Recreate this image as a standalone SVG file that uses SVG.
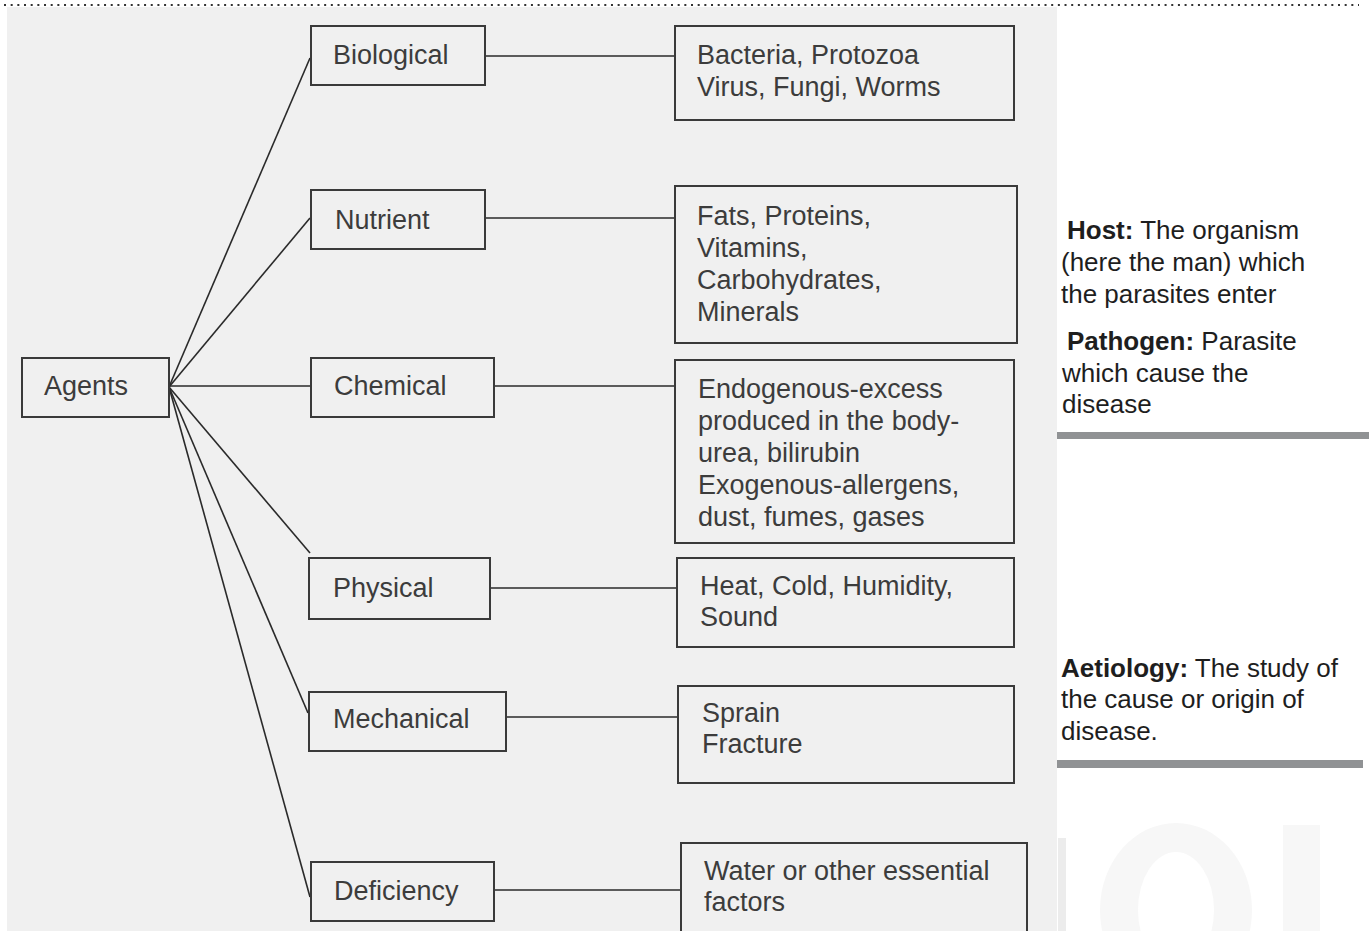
<svg xmlns="http://www.w3.org/2000/svg" width="1369" height="931" viewBox="0 0 1369 931">
<style>
.box{fill:none;stroke:#3a3a3a;stroke-width:2}
.t{font-family:"Liberation Sans",Arial,sans-serif;font-size:27px;fill:#3c3c3c}
.side{font-family:"Liberation Sans",Arial,sans-serif;font-size:26px;fill:#1e1e1e}
.b{font-weight:bold}
.conn line{stroke:#2a2a2a;stroke-width:1.6}
.wm{fill:#f7f7f7}
</style>
<rect width="1369" height="931" fill="#ffffff"/>
<rect x="7" y="7" width="1050" height="924" fill="#f0f0f0"/>
<line x1="4" y1="5" x2="1359" y2="5" stroke="#333" stroke-width="2" stroke-dasharray="2 4.67"/>
<g id="watermark">
<rect x="1058" y="838" width="8" height="93" fill="#ececec"/>
<path class="wm" fill-rule="evenodd" d="M1100,910 a76,87 0 1,0 152,0 a76,87 0 1,0 -152,0 Z M1138,910 a38,58 0 1,0 76,0 a38,58 0 1,0 -76,0 Z"/>
<rect class="wm" x="1283" y="825" width="37" height="106"/>
</g>
<g id="connectors" class="conn">
<line x1="169" y1="387" x2="310" y2="58"/>
<line x1="169" y1="387" x2="310" y2="218"/>
<line x1="169" y1="386" x2="311" y2="386"/>
<line x1="169" y1="387" x2="310" y2="553"/>
<line x1="169" y1="387" x2="308" y2="713"/>
<line x1="169" y1="387" x2="310" y2="897"/>
<line x1="485" y1="56" x2="675" y2="56"/>
<line x1="485" y1="218" x2="675" y2="218"/>
<line x1="494" y1="386" x2="675" y2="386"/>
<line x1="489" y1="588" x2="677" y2="588"/>
<line x1="506" y1="717" x2="678" y2="717"/>
<line x1="494" y1="890" x2="681" y2="890"/>
</g>
<g id="agents"><rect class="box" x="22" y="358" width="147" height="59"/><text class="t" x="44" y="395">Agents</text></g>
<g id="biological"><rect class="box" x="311" y="26" width="174" height="59"/><text class="t" x="333" y="64">Biological</text></g>
<g id="nutrient"><rect class="box" x="311" y="190" width="174" height="59"/><text class="t" x="335" y="229">Nutrient</text></g>
<g id="chemical"><rect class="box" x="311" y="358" width="183" height="59"/><text class="t" x="334" y="395">Chemical</text></g>
<g id="physical"><rect class="box" x="309" y="558" width="181" height="61"/><text class="t" x="333" y="597">Physical</text></g>
<g id="mechanical"><rect class="box" x="309" y="692" width="197" height="59"/><text class="t" x="333" y="728">Mechanical</text></g>
<g id="deficiency"><rect class="box" x="311" y="862" width="183" height="59"/><text class="t" x="334" y="900">Deficiency</text></g>
<g id="bio-items"><rect class="box" x="675" y="26" width="339" height="94"/><text class="t" x="697" y="64">Bacteria, Protozoa</text><text class="t" x="697" y="96">Virus, Fungi, Worms</text></g>
<g id="nut-items"><rect class="box" x="675" y="186" width="342" height="157"/>
<text class="t" x="697" y="225">Fats, Proteins,</text><text class="t" x="697" y="257">Vitamins,</text><text class="t" x="697" y="289">Carbohydrates,</text><text class="t" x="697" y="321">Minerals</text></g>
<g id="chem-items"><rect class="box" x="675" y="360" width="339" height="183"/>
<text class="t" x="698" y="398">Endogenous-excess</text><text class="t" x="698" y="430">produced in the body-</text><text class="t" x="698" y="462">urea, bilirubin</text><text class="t" x="698" y="494">Exogenous-allergens,</text><text class="t" x="698" y="526">dust, fumes, gases</text></g>
<g id="phys-items"><rect class="box" x="677" y="558" width="337" height="89"/><text class="t" x="700" y="595">Heat, Cold, Humidity,</text><text class="t" x="700" y="626">Sound</text></g>
<g id="mech-items"><rect class="box" x="678" y="686" width="336" height="97"/><text class="t" x="702" y="722">Sprain</text><text class="t" x="702" y="753">Fracture</text></g>
<g id="def-items"><rect class="box" x="681" y="843" width="346" height="95"/><text class="t" x="704" y="880">Water or other essential</text><text class="t" x="704" y="911">factors</text></g>
<g id="host-note">
<text class="side" x="1067" y="239"><tspan class="b">Host:</tspan> The organism</text>
<text class="side" x="1061" y="271">(here the man) which</text>
<text class="side" x="1061" y="303">the parasites enter</text>
</g>
<g id="pathogen-note">
<text class="side" x="1067" y="350"><tspan class="b">Pathogen:</tspan> Parasite</text>
<text class="side" x="1062" y="382">which cause the</text>
<text class="side" x="1062" y="413">disease</text>
<rect x="1057" y="432" width="312" height="7" fill="#909294"/>
</g>
<g id="aetiology-note">
<text class="side" x="1061" y="677"><tspan class="b">Aetiology:</tspan> The study of</text>
<text class="side" x="1061" y="708">the cause or origin of</text>
<text class="side" x="1061" y="740">disease.</text>
<rect x="1057" y="760" width="306" height="8" fill="#909294"/>
</g>
</svg>
